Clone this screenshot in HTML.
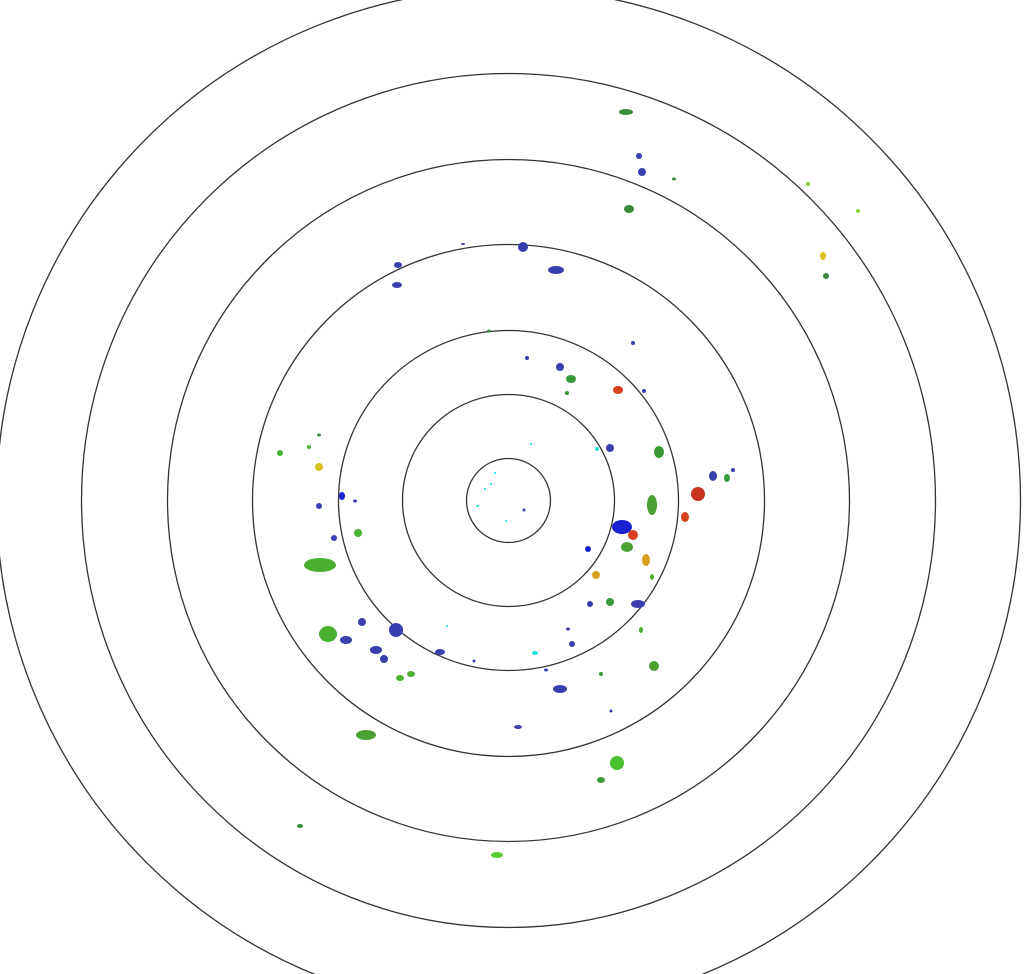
<!DOCTYPE html>
<html><head><meta charset="utf-8"><style>html,body{margin:0;padding:0;background:#fff;width:1029px;height:974px;overflow:hidden}</style></head>
<body>
<svg width="1029" height="974" viewBox="0 0 1029 974" xmlns="http://www.w3.org/2000/svg">
<g fill="none" stroke="#333" stroke-width="1.3">
<circle cx="508.5" cy="500.5" r="42"/>
<circle cx="508.5" cy="500.5" r="106"/>
<circle cx="508.5" cy="500.5" r="170"/>
<circle cx="508.5" cy="500.5" r="256"/>
<circle cx="508.5" cy="500.5" r="341"/>
<circle cx="508.5" cy="500.5" r="427"/>
<circle cx="508.5" cy="500.5" r="512"/>
</g>
<g fill="#3a3fb0">
<ellipse cx="626" cy="112" rx="7" ry="3" fill="#3a8a3a"/>
<ellipse cx="639" cy="156" rx="3" ry="3"/>
<ellipse cx="642" cy="172" rx="4" ry="4"/>
<ellipse cx="674" cy="179" rx="2" ry="1.5" fill="#3a8a3a"/>
<ellipse cx="629" cy="209" rx="5" ry="4" fill="#3a8a3a"/>
<ellipse cx="523" cy="247" rx="5" ry="5"/>
<ellipse cx="463" cy="244" rx="2" ry="1"/>
<ellipse cx="556" cy="270" rx="8" ry="4"/>
<ellipse cx="398" cy="265" rx="4" ry="3"/>
<ellipse cx="397" cy="285" rx="5" ry="3"/>
<ellipse cx="489" cy="331" rx="2" ry="1.5" fill="#3a8a3a"/>
<ellipse cx="527" cy="358" rx="2" ry="2"/>
<ellipse cx="633" cy="343" rx="2" ry="2"/>
<ellipse cx="560" cy="367" rx="4" ry="4"/>
<ellipse cx="567" cy="393" rx="2" ry="2" fill="#3a8a3a"/>
<ellipse cx="571" cy="379" rx="5" ry="4" fill="#3a9a3a"/>
<ellipse cx="618" cy="390" rx="5" ry="4" fill="#d84020"/>
<ellipse cx="659" cy="452" rx="5" ry="6" fill="#3a9a3a"/>
<ellipse cx="610" cy="448" rx="4" ry="4"/>
<ellipse cx="713" cy="476" rx="4" ry="5"/>
<ellipse cx="698" cy="494" rx="7" ry="7" fill="#c83020"/>
<ellipse cx="727" cy="478" rx="3" ry="4" fill="#3a9a3a"/>
<ellipse cx="733" cy="470" rx="2" ry="2"/>
<ellipse cx="685" cy="517" rx="4" ry="5" fill="#d84020"/>
<ellipse cx="652" cy="505" rx="5" ry="10" fill="#4aa030"/>
<ellipse cx="622" cy="527" rx="10" ry="7" fill="#1822d0"/>
<ellipse cx="633" cy="535" rx="5" ry="5" fill="#d84020"/>
<ellipse cx="627" cy="547" rx="6" ry="5" fill="#4aa030"/>
<ellipse cx="646" cy="560" rx="4" ry="6" fill="#d8a020"/>
<ellipse cx="596" cy="575" rx="4" ry="4" fill="#d8a020"/>
<ellipse cx="638" cy="604" rx="7" ry="4"/>
<ellipse cx="610" cy="602" rx="4" ry="4" fill="#3a9a3a"/>
<ellipse cx="590" cy="604" rx="3" ry="3"/>
<ellipse cx="588" cy="549" rx="3" ry="3" fill="#1822d0"/>
<ellipse cx="654" cy="666" rx="5" ry="5" fill="#4aa030"/>
<ellipse cx="560" cy="689" rx="7" ry="4"/>
<ellipse cx="572" cy="644" rx="3" ry="3"/>
<ellipse cx="568" cy="629" rx="2" ry="1.5"/>
<ellipse cx="546" cy="670" rx="2" ry="1.5"/>
<ellipse cx="611" cy="711" rx="1.5" ry="1.5"/>
<ellipse cx="617" cy="763" rx="7" ry="7" fill="#4ac030"/>
<ellipse cx="601" cy="780" rx="4" ry="3" fill="#3a9a3a"/>
<ellipse cx="497" cy="855" rx="6" ry="3" fill="#5ad030"/>
<ellipse cx="300" cy="826" rx="3" ry="2" fill="#3a8a3a"/>
<ellipse cx="366" cy="735" rx="10" ry="5" fill="#4aa030"/>
<ellipse cx="328" cy="634" rx="9" ry="8" fill="#4ab030"/>
<ellipse cx="346" cy="640" rx="6" ry="4"/>
<ellipse cx="362" cy="622" rx="4" ry="4"/>
<ellipse cx="396" cy="630" rx="7" ry="7"/>
<ellipse cx="376" cy="650" rx="6" ry="4"/>
<ellipse cx="384" cy="659" rx="4" ry="4"/>
<ellipse cx="400" cy="678" rx="4" ry="3" fill="#4ab030"/>
<ellipse cx="411" cy="674" rx="4" ry="3" fill="#4ab030"/>
<ellipse cx="440" cy="652" rx="5" ry="3"/>
<ellipse cx="474" cy="661" rx="1.5" ry="1.5"/>
<ellipse cx="320" cy="565" rx="16" ry="7" fill="#4ab030"/>
<ellipse cx="358" cy="533" rx="4" ry="4" fill="#4ab030"/>
<ellipse cx="334" cy="538" rx="3" ry="3"/>
<ellipse cx="319" cy="506" rx="3" ry="3"/>
<ellipse cx="342" cy="496" rx="3" ry="4" fill="#1822d0"/>
<ellipse cx="355" cy="501" rx="2" ry="1.5"/>
<ellipse cx="319" cy="467" rx="4" ry="4" fill="#d8c020"/>
<ellipse cx="309" cy="447" rx="2" ry="2" fill="#4ab030"/>
<ellipse cx="319" cy="435" rx="2" ry="1.5" fill="#3a8a3a"/>
<ellipse cx="280" cy="453" rx="3" ry="3" fill="#4ab030"/>
<ellipse cx="823" cy="256" rx="3" ry="4" fill="#d8c020"/>
<ellipse cx="826" cy="276" rx="3" ry="3" fill="#3a8a3a"/>
<ellipse cx="808" cy="184" rx="2" ry="2" fill="#8ad030"/>
<ellipse cx="858" cy="211" rx="2" ry="2" fill="#8ad030"/>
<ellipse cx="518" cy="727" rx="4" ry="2"/>
<ellipse cx="597" cy="449" rx="2" ry="2" fill="#20e0e0"/>
<ellipse cx="535" cy="653" rx="3" ry="2" fill="#20e0e0"/>
<ellipse cx="644" cy="391" rx="2" ry="2"/>
<ellipse cx="641" cy="630" rx="2" ry="3" fill="#4ab030"/>
<ellipse cx="652" cy="577" rx="2" ry="3" fill="#4ab030"/>
<ellipse cx="601" cy="674" rx="2" ry="2" fill="#3a9a3a"/>
<ellipse cx="524" cy="510" rx="1.5" ry="1.5"/>
</g>
<g fill="#40e8f0">
<rect x="476" y="505" width="3" height="2"/>
<rect x="484" y="488" width="2" height="2"/>
<rect x="494" y="472" width="2" height="2"/>
<rect x="490" y="483" width="2" height="2"/>
<rect x="530" y="443" width="2" height="2"/>
<rect x="505" y="520" width="2" height="2"/>
<rect x="446" y="625" width="2" height="2"/>
</g>
</svg>
</body></html>
